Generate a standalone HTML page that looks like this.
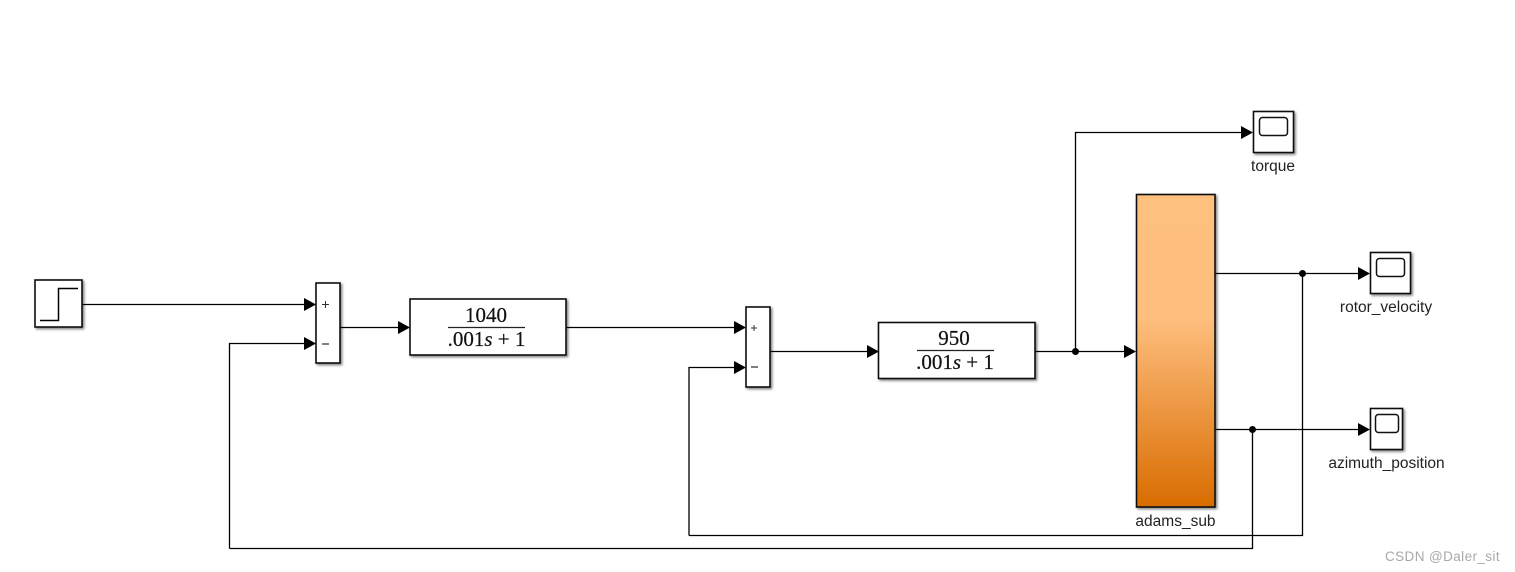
<!DOCTYPE html>
<html><head><meta charset="utf-8"><style>
html,body{margin:0;padding:0;background:#fff}
svg{display:block}
.l{fill:none;stroke:#000;stroke-width:1.3}
.b{stroke:#111;stroke-width:1.6;fill:#fff;filter:url(#s)}
.t{font-family:"Liberation Sans",sans-serif;font-size:15.5px;fill:#222;text-anchor:middle}
.m{font-family:"Liberation Serif",serif;font-size:21px;fill:#111;stroke:#111;stroke-width:.2;text-anchor:middle}
.a{fill:#000}
</style></head><body>
<svg width="1515" height="572" viewBox="0 0 1515 572" xmlns="http://www.w3.org/2000/svg">
<defs>
<filter id="s" x="-20%" y="-20%" width="150%" height="150%"><feDropShadow dx="1.5" dy="1.5" stdDeviation="1.4" flood-color="#000" flood-opacity=".5"/></filter>
<linearGradient id="g" x1="0" y1="0" x2="0" y2="1"><stop offset="0" stop-color="#fec07f"/><stop offset=".4" stop-color="#febe7d"/><stop offset="1" stop-color="#d96c00"/></linearGradient>
</defs>

<path class="l" d="M82 304.500H305M229.500 548.500V343.500H305M229.500 548.500H1252.500V429M340 327.500H399M566 327.500H735M770 351.500H868M689 535.500V367.500H735M689 535.500H1302.500V273M1035 351.500H1125M1075.500 351.500V132.500H1242M1215 273.500H1359M1215 429.500H1359"/>

<g class="a">
<path d="M304 298l12 6.500-12 6.500z"/><path d="M304 337l12 6.500-12 6.500z"/>
<path d="M398 321l12 6.500-12 6.500z"/>
<path d="M734 321l12 6.500-12 6.500z"/><path d="M734 361l12 6.500-12 6.500z"/>
<path d="M867 345l12 6.500-12 6.500z"/>
<path d="M1124 345l12 6.500-12 6.500z"/>
<path d="M1241 126l12 6.500-12 6.500z"/>
<path d="M1358 267l12 6.500-12 6.500z"/>
<path d="M1358 423l12 6.500-12 6.500z"/>
<circle cx="1075.500" cy="351.500" r="3.500"/><circle cx="1302.500" cy="273.500" r="3.500"/><circle cx="1252.500" cy="429.500" r="3.500"/>
</g>

<rect class="b" x="35" y="280" width="47" height="47"/>
<path d="M40 320.500H58.500V288.500H78" fill="none" stroke="#000" stroke-width="1.500"/>

<rect class="b" x="316" y="283" width="24" height="80"/>
<path d="M322 304.500h7M325.500 301v7" stroke="#333" stroke-width="1" fill="none"/>
<path d="M322 344h7" stroke="#555" stroke-width="1.500" fill="none"/>

<rect class="b" x="410" y="299" width="156" height="56"/>
<text class="m" x="486" y="322">1040</text>
<path d="M448 327.500H525" stroke="#222" stroke-width="1.300"/>
<text class="m" x="486.500" y="346">.001<tspan font-style="italic">s</tspan> + 1</text>

<rect class="b" x="746" y="307" width="24" height="80"/>
<path d="M751 328h6M754 325v6" stroke="#333" stroke-width="1" fill="none"/>
<path d="M751 367h7" stroke="#555" stroke-width="1.500" fill="none"/>

<rect class="b" x="878.500" y="322.500" width="156.500" height="56"/>
<text class="m" x="954" y="345">950</text>
<path d="M917 350.500H994" stroke="#222" stroke-width="1.300"/>
<text class="m" x="955" y="369">.001<tspan font-style="italic">s</tspan> + 1</text>

<rect x="1136.500" y="194.500" width="78.500" height="312.500" fill="url(#g)" stroke="#111" stroke-width="1.600" filter="url(#s)"/>
<text class="t" x="1175.500" y="526">adams_sub</text>

<rect class="b" x="1253.500" y="111.500" width="40" height="41"/>
<rect x="1259.500" y="117.500" width="28" height="18" rx="3" fill="#fff" stroke="#111" stroke-width="1.500"/>
<text class="t" x="1273" y="171">torque</text>

<rect class="b" x="1370.500" y="252.500" width="40" height="41"/>
<rect x="1376.500" y="258.500" width="28" height="18" rx="3" fill="#fff" stroke="#111" stroke-width="1.500"/>
<text class="t" x="1386" y="312">rotor_velocity</text>

<rect class="b" x="1370.500" y="408.500" width="32" height="41"/>
<rect x="1375.500" y="414.500" width="23" height="18" rx="3" fill="#fff" stroke="#111" stroke-width="1.500"/>
<text class="t" x="1386.500" y="468">azimuth_position</text>

<text x="1385" y="561" font-family="'Liberation Sans',sans-serif" font-size="13.500" fill="#a8a8a8" letter-spacing=".4">CSDN @Daler_sit</text>
</svg>
</body></html>
